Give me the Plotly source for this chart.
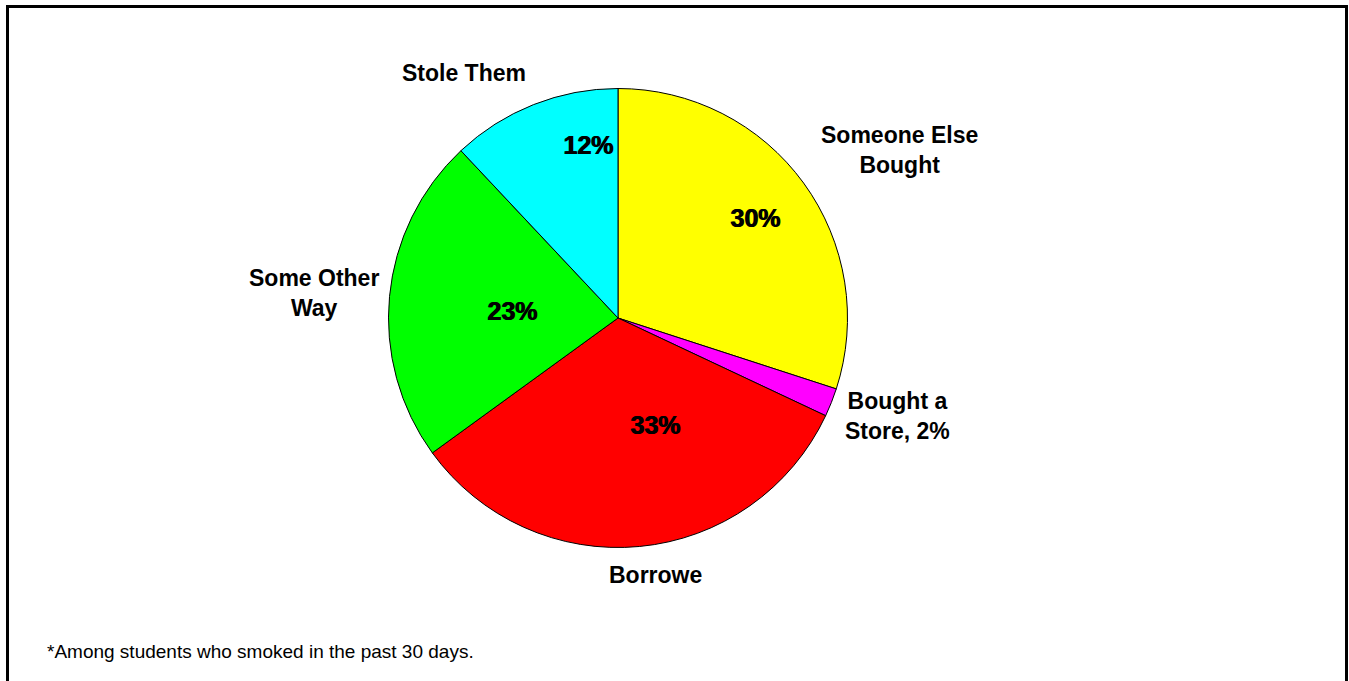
import math
import plotly.graph_objects as go

# ---- data ----
categories = ["Someone Else Bought", "Bought a Store", "Borrowe", "Some Other Way", "Stole Them"]
label_text = ["Someone Else<br>Bought", "Bought a<br>Store, 2%", "Borrowe", "Some Other<br>Way", "Stole Them"]
values = [30, 2, 33, 23, 12]
colors = ["#FFFF00", "#FF00FF", "#FF0000", "#00FF00", "#00FFFF"]
footnote = "*Among students who smoked in the past 30 days."

# ---- style: nudges (px) for labels ----
pct_nudge = [(26, -19), (0, 0), (24, -30), (31, 6), (21, -45)]
lab_nudge = [(0, 8), (-5, 7), (14, -5), (10, -2), (1, 0)]

W, H = 1349, 681
cx, cy, R = 618, 318, 229.5  # pie centre/radius in pixels

dom_x = [(cx - R) / W, (cx + R) / W]
dom_y = [(H - cy - R) / H, (H - cy + R) / H]

total = sum(values)

fig = go.Figure()
fig.add_trace(go.Pie(
    labels=categories, values=values, sort=False, direction="clockwise", rotation=0,
    marker=dict(colors=colors, line=dict(color="black", width=1)),
    textinfo="none", hoverinfo="label+percent", showlegend=False,
    domain=dict(x=dom_x, y=dom_y),
))

annotations = []
cum = 0
for lab, v, nd, ln in zip(label_text, values, pct_nudge, lab_nudge):
    mid = (cum + v / 2) / total * 2 * math.pi
    cum += v
    s, c = math.sin(mid), math.cos(mid)
    # outside category label
    px = cx + 1.08 * R * s + ln[0]
    py = cy - 1.08 * R * c + ln[1]
    xa = "center" if abs(s) < 0.3 else ("left" if s > 0 else "right")
    ya = "middle" if abs(c) < 0.4 else ("bottom" if c > 0 else "top")
    annotations.append(dict(
        x=px / W, y=1 - py / H, xref="paper", yref="paper",
        text=f"<b>{lab}</b>", showarrow=False, xanchor=xa, yanchor=ya, align="center",
        font=dict(family="Liberation Sans", size=23, color="black"),
    ))
    # inside percentage label
    pct = v / total
    if pct >= 0.05:
        qx = cx + 0.6 * R * s + nd[0]
        qy = cy - 0.6 * R * c + nd[1]
        annotations.append(dict(
            x=qx / W, y=1 - qy / H, xref="paper", yref="paper",
            text=f"<b>{round(pct * 100)}%</b>", showarrow=False,
            xanchor="center", yanchor="middle",
            font=dict(family="Liberation Sans", size=25, color="black",
                      shadow="1px 0px 0px black"),
        ))

annotations.append(dict(
    x=45 / W, y=1 - 651 / H, xref="paper", yref="paper", text=footnote,
    showarrow=False, xanchor="left", yanchor="middle",
    font=dict(family="Liberation Sans", size=19, color="black"),
))

fig.update_layout(
    width=W, height=H, margin=dict(l=0, r=0, t=0, b=0),
    paper_bgcolor="white", plot_bgcolor="white",
    annotations=annotations,
    shapes=[dict(type="rect", xref="paper", yref="paper",
                 x0=7.5 / W, x1=1346.5 / W, y0=-0.02, y1=1 - 6.5 / H,
                 line=dict(color="black", width=3))],
)

fig.write_html("out.html", config={"displayModeBar": False},
               post_script="document.body.style.margin='0';document.body.style.overflow='hidden';")
